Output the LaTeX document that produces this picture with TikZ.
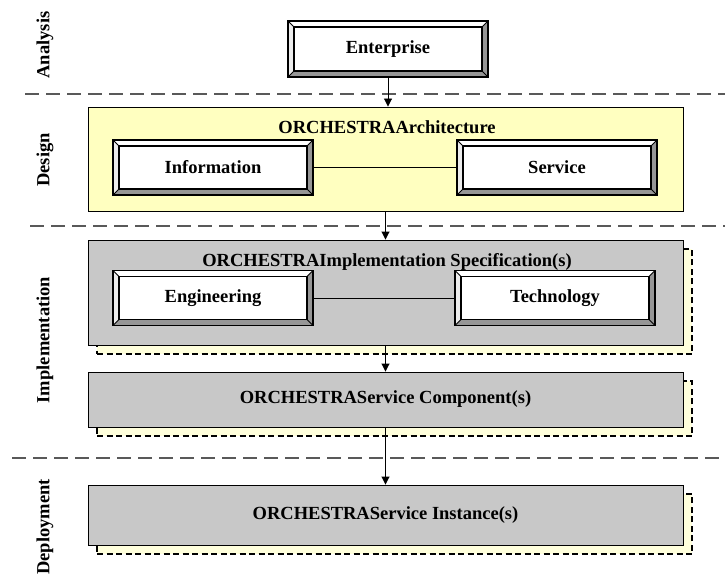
\documentclass[tikz,border=0pt]{standalone}
\usepackage{fontspec}
\setmainfont{Liberation Serif}
\usetikzlibrary{positioning,arrows.meta,shadows}
\definecolor{designyellow}{RGB}{255,255,192}
\definecolor{shadowyellow}{RGB}{255,255,220}
\definecolor{specgray}{RGB}{200,200,200}
\definecolor{bevelgray}{RGB}{150,150,150}
\tikzset{
    % Visio-like bevelled box: light top/left edge, dark bottom/right edge
    bevel_box/.style={
        draw, line width=1.2pt, fill=white, minimum width=200pt, minimum height=56pt,
        font=\fontsize{18.5}{22}\selectfont\bfseries,
        path picture={
            \fill[bevelgray] (path picture bounding box.south west) -- (path picture bounding box.south east)
                -- (path picture bounding box.north east) -- ([xshift=-6pt,yshift=-6pt]path picture bounding box.north east)
                -- ([xshift=-6pt,yshift=6pt]path picture bounding box.south east) -- ([xshift=6pt,yshift=6pt]path picture bounding box.south west) -- cycle;
            \fill[gray!15] (path picture bounding box.north west) -- ([xshift=6pt,yshift=-6pt]path picture bounding box.north west)
                -- ([xshift=6pt,yshift=6pt]path picture bounding box.south west) -- (path picture bounding box.south west) -- cycle;
            \draw[line width=1.5pt] ([xshift=6pt,yshift=6pt]path picture bounding box.south west) rectangle ([xshift=-6pt,yshift=-6pt]path picture bounding box.north east);
            \draw[line width=0.8pt] (path picture bounding box.south west) -- ++(6pt,6pt);
            \draw[line width=0.8pt] (path picture bounding box.south east) -- ++(-6pt,6pt);
            \draw[line width=0.8pt] (path picture bounding box.north west) -- ++(6pt,-6pt);
            \draw[line width=0.8pt] (path picture bounding box.north east) -- ++(-6pt,-6pt);
        }
    },
    layer_box/.style={draw, line width=0.9pt, minimum width=595pt, font=\fontsize{18.5}{22}\selectfont\bfseries},
    spec_box/.style={layer_box, fill=specgray,
        drop shadow={shadow xshift=9pt, shadow yshift=-9pt, fill=shadowyellow, draw=black,
            dash pattern=on 6pt off 3.5pt, line width=1.4pt, opacity=1}},
    box_title/.style={font=\fontsize{18.5}{22}\selectfont\bfseries, inner sep=0pt},
    phase_label/.style={rotate=90, font=\fontsize{18.5}{22}\selectfont\bfseries},
    phase_sep/.style={draw=black!65, line width=1.6pt, dash pattern=on 14pt off 7pt},
    flow/.style={line width=0.9pt, -{Triangle[width=8pt,length=8pt]}},
    link/.style={line width=0.9pt},
}
\begin{document}
\begin{tikzpicture}[x=1pt, y=-1pt]
    \useasboundingbox (0,0) rectangle (725,583);

    % Phase labels and separators
    \node[phase_label] (analysis)   at (45,45)  {Analysis};
    \node[phase_label] (design)     at (45,160) {Design};
    \node[phase_label] (implement)  at (45,340) {Implementation};
    \node[phase_label] (deployment) at (45,527) {Deployment};
    \draw[phase_sep] (25,94)  -- (725,94);
    \draw[phase_sep] (30,226) -- (725,226);
    \draw[phase_sep] (12,458) -- (725,458);

    % Analysis
    \node[bevel_box] (enterprise) at (388,49) {Enterprise};

    % Design
    \node[layer_box, fill=designyellow, minimum height=104pt] (arch) at (385.5,159) {};
    \node[box_title] (archtitle) at (387,127) {ORCHESTRAArchitecture};
    \node[bevel_box, minimum height=55pt] (information) at (213,167.5) {Information};
    \node[bevel_box, minimum height=55pt] (service)     at (557,167.5) {Service};
    \draw[link] (information) -- (service);

    % Implementation
    \node[spec_box, minimum height=105pt] (implspec) at (385.5,292.5) {};
    \node[box_title] (spectitle) at (387,262) {ORCHESTRAImplementation Specification(s)};
    \node[bevel_box, minimum height=55pt] (engineering) at (213,298) {Engineering};
    \node[bevel_box, minimum height=55pt] (technology)  at (555,298) {Technology};
    \draw[link] (engineering) -- (technology);
    \node[spec_box, minimum height=55pt] (component) at (385.5,399.5) {ORCHESTRAService Component(s)};

    % Deployment
    \node[spec_box, minimum height=60pt] (instance) at (385.5,515) {ORCHESTRAService Instance(s)};

    % Flow between phases
    \draw[flow] (enterprise.south) -- (enterprise.south |- arch.north);
    \draw[flow] (arch.south) -- (implspec.north);
    \draw[flow] (implspec.south) -- (component.north);
    \draw[flow] (component.south) -- (instance.north);
\end{tikzpicture}
\end{document}
